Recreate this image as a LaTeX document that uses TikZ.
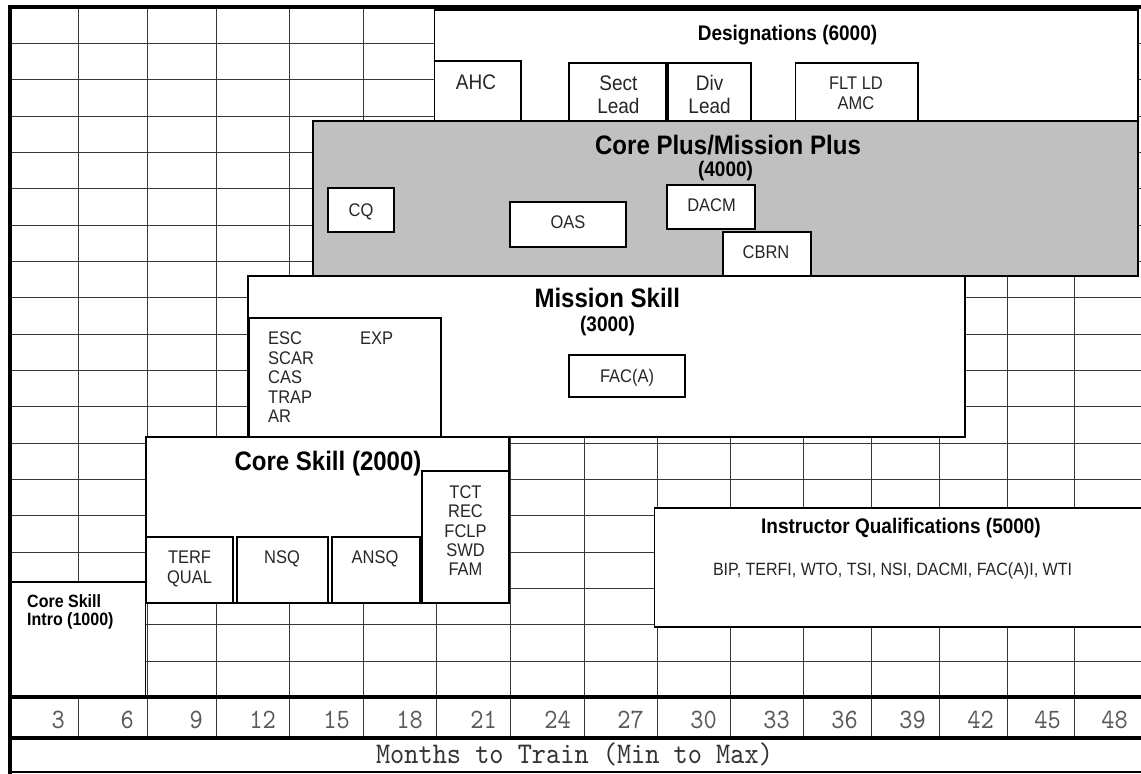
\documentclass[tikz,border=0pt]{standalone}
\usepackage{fontspec}
\setmainfont[FakeStretch=0.9]{Liberation Sans}
\newfontfamily\axisfont[Extension=.otf, FakeStretch=0.9]{lmmono10-regular}
\definecolor{corefill}{HTML}{C0C0C0}
\definecolor{itemtext}{HTML}{262626}
\definecolor{axistext}{HTML}{5A5A5A}
\begin{document}
\begin{tikzpicture}[x=1pt,y=-1pt,
  gridline/.style={line width=1pt, draw=black!78},
  box/.style={draw=black, line width=1.8pt, fill=white},
  graybox/.style={draw=black, line width=1.8pt, fill=corefill},
  frameline/.style={draw=black, line width=3.6pt},
  bigtitle/.style={font=\bfseries\fontsize{26.7}{30}\selectfont, anchor=base, inner sep=0pt},
  midtitle/.style={font=\bfseries\fontsize{21.1}{25}\selectfont, anchor=base, inner sep=0pt},
  smalltitle/.style={font=\bfseries\fontsize{17.8}{21}\selectfont, anchor=base west, inner sep=0pt},
  desitem/.style={font=\fontsize{21.1}{25}\selectfont, text=itemtext, anchor=base, inner sep=0pt},
  item/.style={font=\fontsize{18.3}{21}\selectfont, text=itemtext, anchor=base, inner sep=0pt},
  leftitem/.style={item, anchor=base west},
  axisnum/.style={font=\axisfont\fontsize{28}{31}\selectfont, text=axistext, anchor=base east, inner sep=0pt},
  axislabel/.style={font=\axisfont\fontsize{30}{33}\selectfont, text=black!80, anchor=base, inner sep=0pt}
]
\useasboundingbox (0,0) rectangle (1141,774);
\fill[white] (0,0) rectangle (1141,774);

% grid
\foreach \x in {78,147,216,289,363,436,510,584,657,730,803,871,939,1007,1074}
  \draw[gridline] (\x,7) -- (\x,738);
\foreach \k in {1,...,18}
  \draw[gridline] (10,{7+36.35*\k}) -- (1141,{7+36.35*\k});

% Designations
\draw[box] (434.5,10) rectangle (1138,120.7);
\draw[box] (434.5,61) rectangle (520.7,120.7);
\draw[box] (569,63) rectangle (666,120.7);
\draw[box] (668,63) rectangle (751,120.7);
\draw[box] (795.5,63) rectangle (918,120.7);
\node[midtitle] (des) at (787.5,40.5) {Designations (6000)};
\node[desitem] (ahc) at (476,89.5) {AHC};
\node[desitem] (sect1) at (618.4,90.5) {Sect};
\node[desitem] (sect2) at (618.4,113.5) {Lead};
\node[desitem] (div1) at (709.6,90.5) {Div};
\node[desitem] (div2) at (709.6,113.5) {Lead};
\node[item] (flt1) at (856,89.6) {FLT LD};
\node[item] (flt2) at (856,109) {AMC};

% Core Plus / Mission Plus
\draw[graybox] (313,120.7) rectangle (1138,275.7);
\node[bigtitle] (cp) at (728,154) {Core Plus/Mission Plus};
\node[midtitle] (cpn) at (725.5,176) {(4000)};
\draw[box] (328,188) rectangle (394,232);
\node[item] (cq) at (361,216) {CQ};
\draw[box] (510,202) rectangle (626,247);
\node[item] (oas) at (568,228.5) {OAS};
\draw[box] (667,185) rectangle (755,229);
\node[item] (dacm) at (711.5,211.5) {DACM};
\draw[box] (723,232) rectangle (811,275.7);
\node[item] (cbrn) at (766,258.5) {CBRN};

% Mission Skill
\draw[box] (248,275.7) rectangle (965,437);
\node[bigtitle] (ms) at (607.3,307) {Mission Skill};
\node[midtitle] (msn) at (607.6,331) {(3000)};
\draw[box] (249.5,318) rectangle (441,437);
\node[leftitem] (esc) at (268,344.5) {ESC};
\node[leftitem] (scar) at (268,364) {SCAR};
\node[leftitem] (cas) at (268,383.5) {CAS};
\node[leftitem] (trap) at (268,403) {TRAP};
\node[leftitem] (ar) at (268,422.5) {AR};
\node[leftitem] (exp) at (360,344.5) {EXP};
\draw[box] (569,355) rectangle (685,397);
\node[item] (faca) at (627,382.7) {FAC(A)};

% Core Skill
\draw[box] (146,437) rectangle (509,603);
\node[bigtitle] (cs) at (328,470) {Core Skill (2000)};
\draw[box] (146,537) rectangle (233,603);
\node[item] (terf1) at (189.5,563.5) {TERF};
\node[item] (terf2) at (189.5,583.5) {QUAL};
\draw[box] (237,537) rectangle (328,603);
\node[item] (nsq) at (282,563.5) {NSQ};
\draw[box] (332,537) rectangle (420,603);
\node[item] (ansq) at (375,563.5) {ANSQ};
\draw[box] (422,471) rectangle (509,603);
\node[item] (tct) at (465.5,498.5) {TCT};
\node[item] (rec) at (465.5,517.8) {REC};
\node[item] (fclp) at (465.5,537) {FCLP};
\node[item] (swd) at (465.5,556.3) {SWD};
\node[item] (fam) at (465.5,575.5) {FAM};

% Core Skill Intro
\draw[box] (10,582) rectangle (145.5,697);
\node[smalltitle] (csi1) at (27,607.4) {Core Skill};
\node[smalltitle] (csi2) at (27,625.4) {Intro (1000)};

% Instructor Qualifications
\draw[box] (654.5,508) rectangle (1146,627);
\node[midtitle] (iq) at (901,533) {Instructor Qualifications (5000)};
\node[item, font=\fontsize{17.8}{21}\selectfont] (iql) at (892.5,575.5) {BIP, TERFI, WTO, TSI, NSI, DACMI, FAC(A)I, WTI};

% axis
\foreach \r/\n in {78/3,147/6,216/9,289/12,363/15,436/18,510/21,584/24,657/27,730/30,803/33,871/36,939/39,1007/42,1074/45,1141/48}
  \node[axisnum] (n\n) at (\r-13,728.5) {\n};
\node[axislabel] (months) at (574.5,763) {Months to Train (Min to Max)};

% frame
\draw[frameline] (10,697) -- (1141,697);
\draw[frameline] (10,738) -- (1141,738);
\draw[draw=black, line width=1.6pt] (10,772) -- (1141,772);
\draw[frameline] (8,7) -- (1141,7);
\draw[draw=black, line width=4pt] (10,5.2) -- (10,774);
\end{tikzpicture}
\end{document}
